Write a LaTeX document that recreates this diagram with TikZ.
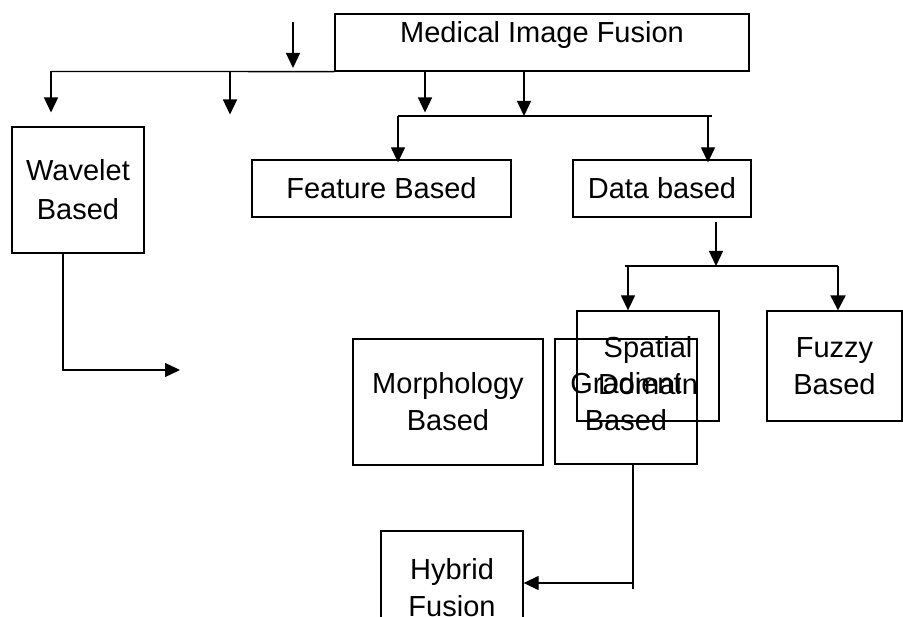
\documentclass[tikz,border=0pt]{standalone}
\usepackage{fontspec}
\setmainfont{Liberation Sans}
\usetikzlibrary{arrows.meta}

\tikzset{
  box/.style={draw, line width=1.3pt, inner sep=0pt, align=center,
              font=\fontsize{29}{37}\selectfont},
  link/.style={line width=1.3pt},
  arr/.style={link, -{Triangle[width=14pt,length=15pt]}},
  thickarr/.style={line width=2pt, -{Triangle[width=15pt,length=15pt]}}
}

\begin{document}
\begin{tikzpicture}[x=1pt,y=-1pt]
  \useasboundingbox (0,0) rectangle (903,617);
  \clip (0,0) rectangle (903,617);

  % boxes
  \node[box, minimum width=414pt, minimum height=57pt, text height=20pt, text depth=20pt]
    (mif) at (542,42.5) {Medical Image Fusion};
  \node[box, minimum width=132pt, minimum height=126pt,
        font=\fontsize{29}{39}\selectfont] (wav) at (78,190) {Wavelet\\Based};
  \node[box, minimum width=259pt, minimum height=57pt] (feat) at (381.5,188.5) {Feature Based};
  \node[box, minimum width=178pt, minimum height=57pt] (data) at (662,188.5) {Data based};
  \node[box, minimum width=142pt, minimum height=110pt] (spat) at (648,366) {Spatial\\Domain};
  \node[box, minimum width=135pt, minimum height=110pt] (fuzzy) at (834.5,366) {Fuzzy\\Based};
  \node[box, minimum width=142pt, minimum height=125pt] (grad) at (626,401.5) {Gradient\\Based};
  \node[box, minimum width=190pt, minimum height=126pt] (morph) at (448,402) {Morphology\\Based};
  \node[box, minimum width=142pt, minimum height=114pt] (hyb) at (452,588) {Hybrid\\Fusion};

  % loose arrow above the first bus
  \coordinate (loneA) at (293,22);
  \coordinate (loneB) at (293,68);
  \draw[arr] (loneA) -- (loneB);

  % first bus under the title box
  \coordinate (busL) at (51,71.5);
  \coordinate (busB) at (230,71.5);
  \coordinate (busC) at (425,71.5);
  \coordinate (busD) at (524,71.5);
  \draw[link] (mif.south west) -- (busL);
  \draw[arr] (busL) -- ++(0,41);
  \draw[arr] (busB) -- ++(0,43);
  \draw[arr] (busC) -- ++(0,41);

  % second bus feeding feature / data boxes
  \coordinate (bustwoL) at (398,116);
  \coordinate (bustwoR) at (712,116);
  \coordinate (bustwoD) at (708,116);
  \draw[arr] (busD) -- (busD |- bustwoL);
  \draw[link] (bustwoL) -- (bustwoR);
  \draw[arr] (bustwoL) -- ([yshift=-3pt]bustwoL |- feat.north);
  \draw[arr] (bustwoD) -- ([yshift=-3pt]bustwoD |- data.north);

  % data based branch
  \coordinate (dtop) at (716,222);
  \coordinate (busthreeL) at (625,266);
  \coordinate (busthreeR) at (838,266);
  \coordinate (busthreeS) at (628,266);
  \draw[arr] (dtop) -- (dtop |- busthreeL);
  \draw[link] (busthreeL) -- (busthreeR);
  \draw[arr] (busthreeS) -- (busthreeS |- spat.north);
  \draw[thickarr] (busthreeR) -- (busthreeR |- fuzzy.north);

  % wavelet outlet
  \coordinate (wvA) at ([xshift=-15pt]wav.south);
  \coordinate (wvB) at (180,370);
  \draw[arr] (wvA) |- (wvB);

  % gradient into hybrid
  \coordinate (grA) at ([xshift=7pt]grad.south);
  \coordinate (grB) at (633,589);
  \coordinate (grC) at (633,583);
  \draw[link] (grA) -- (grB);
  \draw[arr] (grC) -- (grC -| hyb.east);
\end{tikzpicture}
\end{document}
